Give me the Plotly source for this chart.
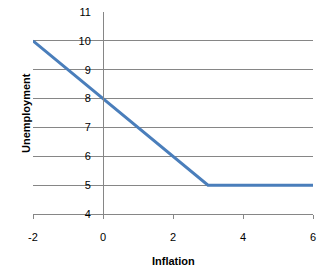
import plotly.graph_objects as go

inflation = [-2, 0, 3, 6]
unemployment = [10, 8, 5, 5]

x_ticks = [-2, 0, 2, 4, 6]
y_ticks = [4, 5, 6, 7, 8, 9, 10, 11]

grey = "#868686"
font = dict(family="Liberation Sans", size=11, color="#000000")

fig = go.Figure()
fig.add_trace(go.Scatter(x=inflation, y=unemployment, mode="lines",
                         line=dict(color="#4A7EBB", width=3), showlegend=False,
                         hoverinfo="skip"))

L, R, T, B = 33, 12, 12, 65
W, H = 325, 279
pw = W - L - R
ph = H - T - B

fig.update_layout(
    template="none",
    width=W, height=H,
    margin=dict(l=L, r=R, t=T, b=B, autoexpand=False),
    paper_bgcolor="white", plot_bgcolor="white",
    font=font,
    xaxis=dict(range=[-2, 6], tickvals=x_ticks, ticktext=[str(v) for v in x_ticks],
               showgrid=False, zeroline=False, showline=True, linecolor=grey, linewidth=1,
               ticks="outside", ticklen=4, tickcolor=grey, tickfont=font,
               ticklabelstandoff=9, fixedrange=True, automargin=False),
    yaxis=dict(range=[4, 11], tickvals=y_ticks, ticktext=[str(v) for v in y_ticks],
               showgrid=True, gridcolor=grey, gridwidth=1, zeroline=False,
               showline=True, linecolor=grey, linewidth=1,
               anchor="free", position=0.25, ticks="", ticklabelstandoff=10,
               tickfont=font, fixedrange=True, automargin=False),
    annotations=[
        dict(text="<b>Inflation</b>", x=(173 - L) / pw, y=(H - B - 261) / ph,
             xref="paper", yref="paper", xanchor="center", yanchor="middle",
             showarrow=False, font=font),
        dict(text="<b>Unemployment</b>", x=(26 - L) / pw, y=(H - B - 113) / ph,
             xref="paper", yref="paper", xanchor="center", yanchor="middle",
             showarrow=False, font=font, textangle=-90),
    ],
)

fig.write_html("out.html")
